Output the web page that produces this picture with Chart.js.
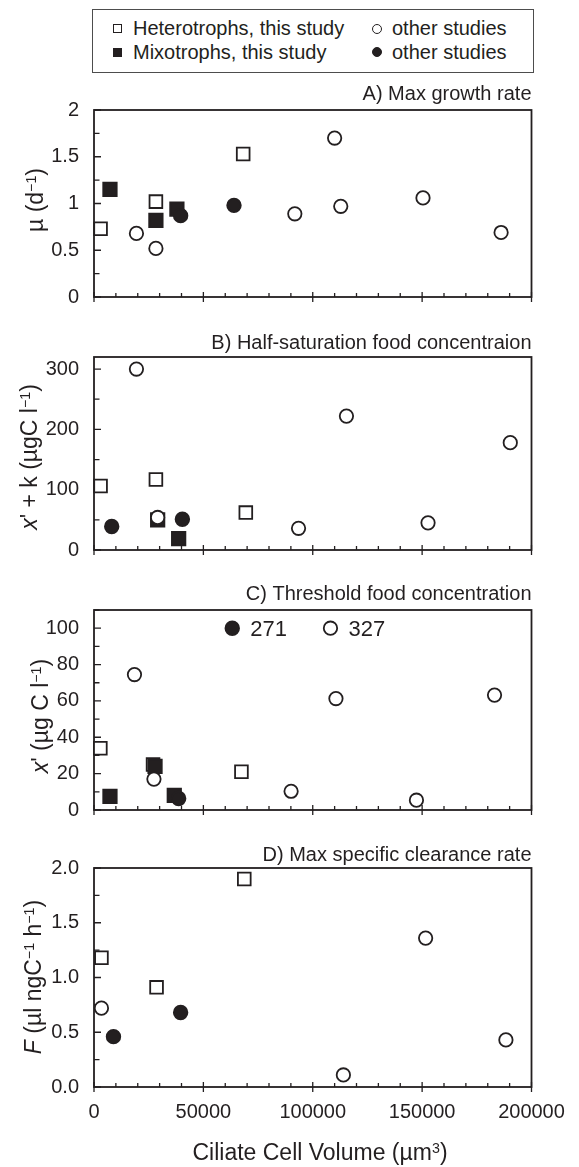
<!DOCTYPE html>
<html>
<head>
<meta charset="utf-8">
<title>Ciliate parameters vs cell volume</title>
<script src="https://cdn.jsdelivr.net/npm/chart.js@4.4.1/dist/chart.umd.min.js"></script>
<style>
  body { margin: 0; background: #fff; }
  #fig { position: relative; width: 579px; height: 1167px; overflow: hidden;
         font-family: "Liberation Sans", Arial, sans-serif; color: #231f20; }
  #fig canvas { position: absolute; left: 0; }
  .legend { position: absolute; left: 92px; top: 9px; width: 442px; height: 64px;
            box-sizing: border-box; border: 1px solid #4d4d4d; }
  .item { position: absolute; font-size: 20px; line-height: 20px; white-space: nowrap; }
  .mk { position: absolute; box-sizing: border-box; width: 9px; height: 9px; border: 1.5px solid #231f20; }
  .mk.round { width: 10px; height: 10px; border-radius: 50%; }
  .mk.filled { background: #231f20; }
  .ytitle, .xtitle { position: absolute; font-size: 23px; line-height: 23px; white-space: nowrap; }
  .ytitle { transform: translate(-50%, -50%) rotate(-90deg); }
  .xtitle { transform: translate(-50%, -50%); }
  sup { font-size: 0.62em; position: relative; top: -0.5em; vertical-align: baseline; line-height: 0; }
</style>
</head>
<body>
<div id="fig">
  <canvas id="cA" width="579" height="242" style="top:82px"></canvas>
  <canvas id="cB" width="579" height="247" style="top:330px"></canvas>
  <canvas id="cC" width="579" height="255" style="top:582px"></canvas>
  <canvas id="cD" width="579" height="326" style="top:841px"></canvas>

  <!-- legend -->
  <div class="legend"></div>
  <div class="mk" style="left:112.5px;top:24px"></div>
  <div class="item" style="left:133px;top:18px">Heterotrophs, this study</div>
  <div class="mk filled" style="left:112.5px;top:47.5px"></div>
  <div class="item" style="left:133px;top:42px">Mixotrophs, this study</div>
  <div class="mk round" style="left:371.5px;top:23.5px"></div>
  <div class="item" style="left:392px;top:18px">other studies</div>
  <div class="mk round filled" style="left:371.5px;top:47px"></div>
  <div class="item" style="left:392px;top:42px">other studies</div>

  <!-- axis titles -->
  <div class="ytitle" style="left:35px;top:200px">µ (d<sup>−1</sup>)</div>
  <div class="ytitle" style="left:29px;top:457px"><i>x</i>' + k (µgC l<sup>−1</sup>)</div>
  <div class="ytitle" style="left:40px;top:716px"><i>x</i>' (µg C l<sup>−1</sup>)</div>
  <div class="ytitle" style="left:33px;top:977px"><i>F</i> (µl ngC<sup>−1</sup> h<sup>−1</sup>)</div>
  <div class="xtitle" style="left:320px;top:1152px">Ciliate Cell Volume (µm<sup>3</sup>)</div>
</div>

<script>
// ciliate cell volume axis (µm3)
const xMin = 0, xMax = 200000, xStep = 10000, xMajor = 50000;

// A) max growth rate, d-1   -> [cell volume, value]
const aHetero = [[3000, 0.73], [28300, 1.02], [68200, 1.53]];
const aMixo = [[7300, 1.15], [28300, 0.82], [37900, 0.94]];
const aHeteroOther = [[19400, 0.68], [28300, 0.52], [91800, 0.89], [110000, 1.70], [112800, 0.97], [150400, 1.06], [186100, 0.69]];
const aMixoOther = [[39600, 0.87], [64000, 0.98]];

// B) half-saturation food concentration, µgC l-1
const bHetero = [[3000, 106], [28300, 117], [69400, 62]];
const bMixo = [[29100, 50], [38700, 19]];
const bHeteroOther = [[19400, 300], [29100, 54], [93500, 36], [115400, 222], [152700, 45], [190300, 178]];
const bMixoOther = [[8100, 39], [40400, 51]];

// C) threshold food concentration, µgC l-1 (271 and 327 are off scale, plotted at 100)
const cHetero = [[2900, 34], [27000, 25], [67400, 21]];
const cMixo = [[7300, 7.5], [27900, 24], [36700, 8]];
const cHeteroOther = [[18500, 74.5], [27400, 17], [90100, 10.3], [108100, 100], [110600, 61.3], [147400, 5.4], [183100, 63.2]];
const cMixoOther = [[38700, 6.3], [63200, 100]];
const cNoteText = ['271', '327'];
const cNoteX = [63200, 108100];
const cNoteY = [100, 100];

// D) max specific clearance rate, µl ngC-1 h-1
const dHetero = [[3400, 1.18], [28600, 0.91], [68700, 1.90]];
const dMixo = [];
const dHeteroOther = [[3400, 0.72], [114000, 0.11], [151600, 1.36], [188300, 0.43]];
const dMixoOther = [[8900, 0.46], [39600, 0.68]];

const INK = '#231f20';
const FONT = '"Liberation Sans", Arial, sans-serif';
Chart.defaults.font.family = FONT;
Chart.defaults.color = INK;

// marker look per series: open square, filled square, open circle, filled circle
const looks = [
  { label: 'Heterotrophs, this study', pointStyle: 'rect', pointRadius: 9, backgroundColor: '#fff', order: 3 },
  { label: 'Mixotrophs, this study', pointStyle: 'rect', pointRadius: 9.5, backgroundColor: INK, order: 2 },
  { label: 'other studies', pointStyle: 'circle', pointRadius: 6.7, backgroundColor: '#fff', order: 0 },
  { label: 'other studies', pointStyle: 'circle', pointRadius: 6.8, backgroundColor: INK, order: 1 },
];

function isMajor(v, step) {
  return Math.abs(v / step - Math.round(v / step)) < 1e-6;
}

// box frame + inward ticks
const frameTicks = {
  id: 'frameTicks',
  beforeDatasetsDraw(chart, args, opts) {
    const { ctx, chartArea: a, scales: { x, y } } = chart;
    ctx.save();
    ctx.strokeStyle = INK;
    ctx.lineWidth = 1.8;
    ctx.strokeRect(a.left, a.top, a.right - a.left, a.bottom - a.top);
    ctx.lineWidth = 1.3;
    ctx.beginPath();
    x.ticks.forEach(t => {
      const px = x.getPixelForValue(t.value);
      const big = isMajor(t.value, xMajor);
      ctx.moveTo(px, a.bottom + (big ? 5 : 0));
      ctx.lineTo(px, a.bottom - (big ? 5 : 4));
    });
    y.ticks.forEach(t => {
      const py = y.getPixelForValue(t.value);
      ctx.moveTo(a.left, py);
      ctx.lineTo(a.left + (isMajor(t.value, opts.yMajor) ? 7 : 5.5), py);
    });
    ctx.stroke();
    ctx.restore();
  }
};

// numbers next to the capped points in panel C
const notes = {
  id: 'notes',
  afterDatasetsDraw(chart, args, opts) {
    if (!opts.text) return;
    const { ctx, scales: { x, y } } = chart;
    ctx.save();
    ctx.font = '22px ' + FONT;
    ctx.fillStyle = INK;
    ctx.textAlign = 'left';
    ctx.textBaseline = 'middle';
    opts.text.forEach((t, i) => {
      ctx.fillText(t, x.getPixelForValue(opts.x[i]) + 18, y.getPixelForValue(opts.y[i]) + 2);
    });
    ctx.restore();
  }
};

function panel(id, title, gap, sets, yMax, yStep, yMajor, fmt, showX, note) {
  const datasets = sets.map((pts, i) => Object.assign({}, looks[i], {
    data: pts.map(p => ({ x: p[0], y: p[1] })),
    borderColor: INK,
    borderWidth: 1.8,
    clip: false
  }));
  return new Chart(document.getElementById(id), {
    type: 'scatter',
    data: { datasets },
    plugins: [frameTicks, notes],
    options: {
      responsive: false,
      animation: false,
      events: [],
      layout: { padding: { left: 0, right: 47.5, top: 0, bottom: showX ? 0 : 14 } },
      plugins: {
        legend: { display: false },
        tooltip: { enabled: false },
        title: {
          display: true, text: title, align: 'end', color: INK,
          font: { size: 20, weight: 'normal' },
          padding: { top: 0, bottom: gap }
        },
        frameTicks: { yMajor },
        notes: note || {}
      },
      scales: {
        x: {
          type: 'linear', min: xMin, max: xMax,
          grid: { display: false, drawTicks: false },
          border: { display: false },
          afterFit: s => { s.height = showX ? 80 : 0; },
          ticks: {
            display: showX, stepSize: xStep, autoSkip: false,
            maxRotation: 0, minRotation: 0, padding: 13,
            font: { size: 20 }, color: INK,
            callback: v => isMajor(v, xMajor) ? String(v) : ''
          }
        },
        y: {
          type: 'linear', min: 0, max: yMax,
          grid: { display: false, drawTicks: false },
          border: { display: false },
          afterFit: s => { s.width = 94; },
          ticks: {
            stepSize: yStep, autoSkip: false, includeBounds: false, padding: 15,
            font: { size: 20 }, color: INK,
            callback: v => isMajor(v, yMajor) ? fmt(v) : ''
          }
        }
      }
    }
  });
}

const plain = v => String(Math.round(v * 100) / 100);

panel('cA', 'A) Max growth rate', 4, [aHetero, aMixo, aHeteroOther, aMixoOther], 2, 0.25, 0.5, plain, false);
panel('cB', 'B) Half-saturation food concentraion', 2, [bHetero, bMixo, bHeteroOther, bMixoOther], 320, 50, 100, plain, false);
panel('cC', 'C) Threshold food concentration', 4, [cHetero, cMixo, cHeteroOther, cMixoOther], 110, 10, 20,
  v => v > 100 ? '' : plain(v), false, { text: cNoteText, x: cNoteX, y: cNoteY });
panel('cD', 'D) Max specific clearance rate', 1, [dHetero, dMixo, dHeteroOther, dMixoOther], 2, 0.25, 0.5, v => v.toFixed(1), true);
</script>
</body>
</html>
